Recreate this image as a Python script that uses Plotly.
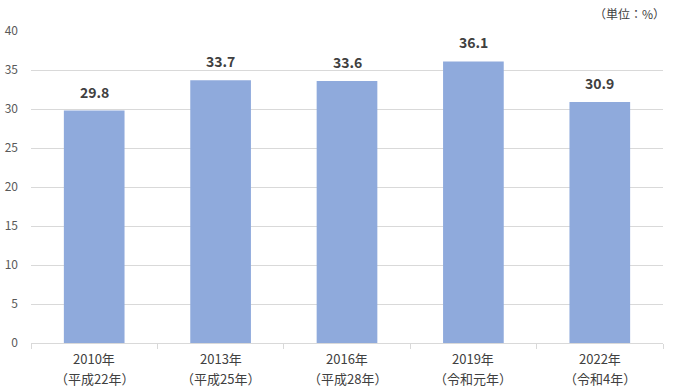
import plotly.graph_objects as go

categories = ["2010年", "2013年", "2016年", "2019年", "2022年"]
era_labels = ["（平成22年）", "（平成25年）", "（平成28年）", "（令和元年）", "（令和4年）"]
values = [29.8, 33.7, 33.6, 36.1, 30.9]
value_labels = ["29.8", "33.7", "33.6", "36.1", "30.9"]
y_ticks = [0, 5, 10, 15, 20, 25, 30, 35, 40]
unit_label = "（単位：%）"

FONT = "Noto Sans CJK JP, sans-serif"

fig = go.Figure()
fig.add_trace(go.Bar(x=categories, y=values, marker_color="#8faadc",
                     marker_line_width=0, hoverinfo="skip"))

for c, v, t in zip(categories, values, value_labels):
    fig.add_annotation(x=c, y=v, text="<b>" + t + "</b>", showarrow=False,
                       yanchor="bottom", yshift=7,
                       font=dict(family=FONT, size=14, color="#404040"))

for c, e in zip(categories, era_labels):
    fig.add_annotation(x=c, yref="paper", y=0, text=c, showarrow=False,
                       yanchor="middle", yshift=-15,
                       font=dict(family=FONT, size=13, color="#404040"))
    fig.add_annotation(x=c, yref="paper", y=0, text=e, showarrow=False,
                       yanchor="middle", yshift=-35,
                       font=dict(family=FONT, size=13, color="#404040"))

fig.add_annotation(xref="paper", yref="paper", x=1.006, y=1.0545, xanchor="right",
                   yanchor="middle", text=unit_label, showarrow=False,
                   font=dict(family=FONT, size=12, color="#404040"))

fig.update_layout(
    width=673, height=392,
    margin=dict(l=31, r=10, t=31, b=49, autoexpand=False),
    paper_bgcolor="white", plot_bgcolor="white",
    bargap=0.52,
    showlegend=False,
    font=dict(family=FONT, size=12, color="#595959"),
)
fig.update_xaxes(showline=True, linecolor="#d9d9d9", linewidth=1,
                 ticks="outside", tickson="boundaries", ticklen=5,
                 tickcolor="#d9d9d9", automargin=False, showticklabels=False)
fig.update_yaxes(range=[0, 40], tickvals=y_ticks, showgrid=True,
                 gridcolor="#d9d9d9", gridwidth=1, zeroline=False,
                 ticks="", ticklabelstandoff=12, automargin=False,
                 tickfont=dict(family=FONT, size=12, color="#595959"))

fig.write_html("out.html", config={"displayModeBar": False},
               post_script="document.body.style.margin='0';document.body.style.padding='0';")
